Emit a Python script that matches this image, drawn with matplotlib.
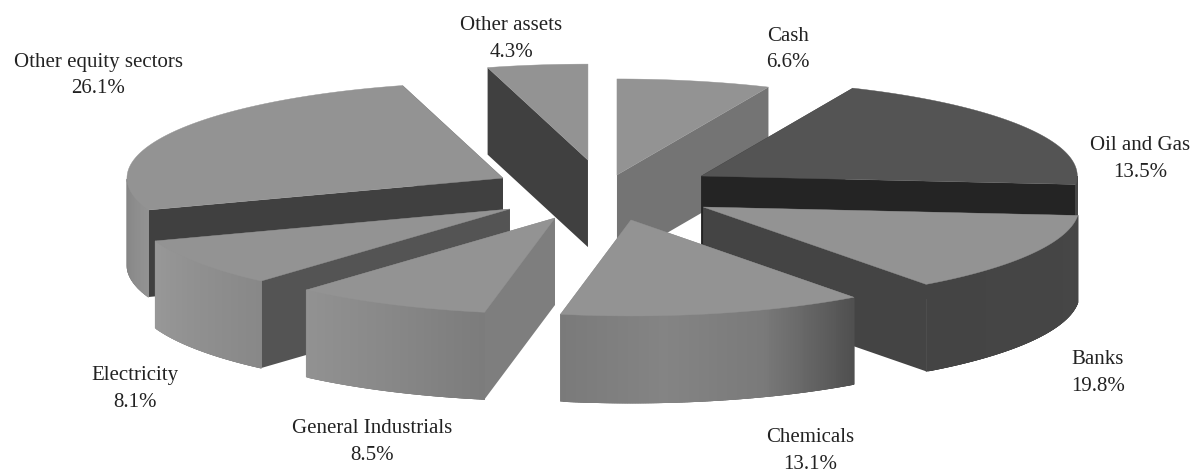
import numpy as np
import matplotlib
matplotlib.use('Agg')
import matplotlib.pyplot as plt

plt.rcParams['font.family'] = ['Liberation Serif', 'DejaVu Serif']

# as printed on the chart, clockwise from the top
names = ['Cash', 'Oil and Gas', 'Banks', 'Chemicals', 'General Industrials',
         'Electricity', 'Other equity sectors', 'Other assets']
printed = [6.6, 13.5, 19.8, 13.1, 8.5, 8.1, 26.1, 4.3]
# the picture draws the Oil and Gas and Banks slices the other way round
drawn = [6.6, 19.8, 13.5, 13.1, 8.5, 8.1, 26.1, 4.3]

explode_x = [0.232, 0.316, 0.318, 0.384, 0.266, 0.286, 0.288, 0.218]
explode_y = [0.176, 0.317, 0.330, 0.304, 0.307, 0.326, 0.303, 0.330]
top_gray = [147, 84, 147, 147, 147, 147, 147, 147]
cut_gray = [116, 36, 68, 120, 126, 84, 64, 64]
# gray stops along the outer wall, left to right
rim_gray = [[130, 130], [70, 70], [68, 70], [122, 132, 122, 80], [146, 136, 124],
            [152, 136], [132, 146], [130, 130]]
label_pos = [(788, 49.5), (1140, 159), (1098, 373), (810, 451), (372, 442),
             (135, 389), (98, 75.5), (511, 39)]

cx, cy = 599, 191.5
rx, ry = 376, 96
depth = 87
paint_order = [7, 0, 1, 6, 2, 5, 4, 3]


def gray(v):
    return (v / 255, v / 255, v / 255)


def rim(x0, y0, a):
    return x0 + rx * np.cos(a), y0 - ry * np.sin(a)


fig, ax = plt.subplots(figsize=(11.93, 4.74), dpi=100)
fig.subplots_adjust(0, 0, 1, 1)
ax.set_xlim(0, 1193)
ax.set_ylim(474, 0)
ax.axis('off')

edges = np.radians(90 - np.cumsum([0] + drawn) * 3.6)

for i in paint_order:
    a0, a1 = edges[i], edges[i + 1]
    mid = (a0 + a1) / 2
    x0 = cx + explode_x[i] * rx * np.cos(mid)
    y0 = cy - explode_y[i] * ry * np.sin(mid)
    ang = np.linspace(a0, a1, 120)
    xs, ys = rim(x0, y0, ang)

    # cut faces from the centre to the two ends of the slice
    for k in (0, -1):
        ax.fill([x0, xs[k], xs[k], x0], [y0, ys[k], ys[k] + depth, y0 + depth],
                color=gray(cut_gray[i]), lw=0)

    # outer wall, only the part that faces the viewer, left to right
    # each strip runs on under the next one so no seams show
    front = np.sin(ang) < 0
    if front.any():
        fx, fy = xs[front], ys[front]
        order = np.argsort(fx)
        fx, fy = fx[order], fy[order]
        stops = rim_gray[i]
        for j in range(len(fx) - 1):
            t = j / max(len(fx) - 2, 1)
            g = np.interp(t, np.linspace(0, 1, len(stops)), stops)
            end = min(j + 3, len(fx) - 1)
            ax.fill([fx[j], fx[end], fx[end], fx[j]],
                    [fy[j], fy[end], fy[end] + depth, fy[j] + depth],
                    color=gray(g), lw=0.6)

    ax.fill(np.r_[x0, xs], np.r_[y0, ys], color=gray(top_gray[i]), lw=0.3)

for name, val, pos in zip(names, printed, label_pos):
    ax.text(pos[0], pos[1], '{}\n{}%'.format(name, val), ha='center', va='center',
            fontsize=15, color='#222222', linespacing=1.55)

plt.savefig('out.png', dpi=100)
